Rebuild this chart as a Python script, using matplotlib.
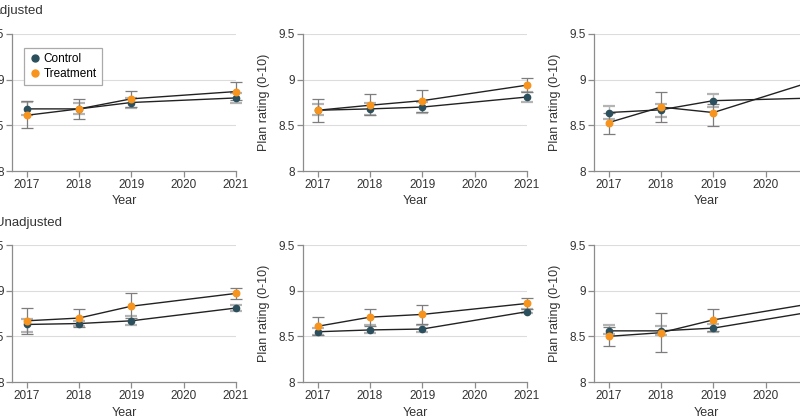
import matplotlib.pyplot as plt
from matplotlib.lines import Line2D
from matplotlib import font_manager

installed = {f.name for f in font_manager.fontManager.ttflist}
if 'Liberation Sans Narrow' in installed:
    plt.rcParams['font.family'] = ['Liberation Sans Narrow', 'DejaVu Sans']
    fs = 9.5
else:
    plt.rcParams['font.family'] = ['Liberation Sans', 'DejaVu Sans']
    fs = 8.5

years = [2017, 2018, 2019, 2021]
tick_years = [2017, 2018, 2019, 2020, 2021]
y_ticks = [8, 8.5, 9, 9.5]
y_labels = ["8", "8.5", "9", "9.5"]
row_titles = ["Adjusted", "Unadjusted"]

# adjusted row
p1_ctrl = [8.68, 8.68, 8.75, 8.80]
p1_ctrl_lo = [8.61, 8.62, 8.69, 8.75]
p1_ctrl_hi = [8.76, 8.75, 8.80, 8.85]
p1_trt = [8.61, 8.68, 8.79, 8.87]
p1_trt_lo = [8.47, 8.57, 8.70, 8.78]
p1_trt_hi = [8.77, 8.79, 8.88, 8.97]

p2_ctrl = [8.665, 8.68, 8.70, 8.81]
p2_ctrl_lo = [8.61, 8.61, 8.64, 8.76]
p2_ctrl_hi = [8.73, 8.74, 8.76, 8.86]
p2_trt = [8.665, 8.72, 8.77, 8.94]
p2_trt_lo = [8.54, 8.61, 8.65, 8.86]
p2_trt_hi = [8.79, 8.84, 8.89, 9.02]

p3_ctrl = [8.64, 8.67, 8.77, 8.80]
p3_ctrl_lo = [8.57, 8.59, 8.70, 8.75]
p3_ctrl_hi = [8.71, 8.73, 8.84, 8.85]
p3_trt = [8.53, 8.70, 8.64, 9.00]
p3_trt_lo = [8.41, 8.54, 8.49, 8.90]
p3_trt_hi = [8.64, 8.87, 8.73, 9.10]

# unadjusted row
p4_ctrl = [8.63, 8.64, 8.67, 8.81]
p4_ctrl_lo = [8.55, 8.61, 8.62, 8.78]
p4_ctrl_hi = [8.69, 8.67, 8.72, 8.84]
p4_trt = [8.67, 8.70, 8.83, 8.97]
p4_trt_lo = [8.53, 8.60, 8.70, 8.91]
p4_trt_hi = [8.81, 8.80, 8.97, 9.03]

p5_ctrl = [8.55, 8.57, 8.58, 8.77]
p5_ctrl_lo = [8.52, 8.54, 8.55, 8.75]
p5_ctrl_hi = [8.59, 8.62, 8.62, 8.80]
p5_trt = [8.61, 8.71, 8.74, 8.86]
p5_trt_lo = [8.52, 8.61, 8.64, 8.80]
p5_trt_hi = [8.71, 8.80, 8.84, 8.92]

p6_ctrl = [8.56, 8.56, 8.59, 8.78]
p6_ctrl_lo = [8.53, 8.51, 8.55, 8.75]
p6_ctrl_hi = [8.62, 8.61, 8.64, 8.81]
p6_trt = [8.50, 8.54, 8.68, 8.87]
p6_trt_lo = [8.39, 8.33, 8.56, 8.80]
p6_trt_hi = [8.60, 8.75, 8.80, 8.94]

panels = [
    (p1_ctrl, p1_ctrl_lo, p1_ctrl_hi, p1_trt, p1_trt_lo, p1_trt_hi),
    (p2_ctrl, p2_ctrl_lo, p2_ctrl_hi, p2_trt, p2_trt_lo, p2_trt_hi),
    (p3_ctrl, p3_ctrl_lo, p3_ctrl_hi, p3_trt, p3_trt_lo, p3_trt_hi),
    (p4_ctrl, p4_ctrl_lo, p4_ctrl_hi, p4_trt, p4_trt_lo, p4_trt_hi),
    (p5_ctrl, p5_ctrl_lo, p5_ctrl_hi, p5_trt, p5_trt_lo, p5_trt_hi),
    (p6_ctrl, p6_ctrl_lo, p6_ctrl_hi, p6_trt, p6_trt_lo, p6_trt_hi),
]

CTRL = "#2b4f5c"
TRT = "#f7941d"
GRID = "#dcdcdc"
SPINE = "#8c8c8c"
TXT = "#333333"

W, H = 800, 419
fig = plt.figure(figsize=(W / 100, H / 100), dpi=100)

lefts = [12, 303, 594]
tops = [34, 245]
aw, ah = 224, 137


def err(mean, lo, hi):
    return [[m - l for m, l in zip(mean, lo)], [h - m for m, h in zip(mean, hi)]]


for i, (c, clo, chi, t, tlo, thi) in enumerate(panels):
    r, col = divmod(i, 3)
    ax = fig.add_axes([lefts[col] / W, 1 - (tops[r] + ah) / H, aw / W, ah / H])
    ax.set_xlim(2016.72, 2021)
    ax.set_ylim(8, 9.5)
    for yv in y_ticks[1:]:
        ax.axhline(yv, color=GRID, lw=0.8, zorder=0)

    ax.errorbar(years, c, yerr=err(c, clo, chi), fmt='none', ecolor="#b4b4b4",
                elinewidth=1.0, capsize=4, capthick=1.6, zorder=2, clip_on=False)
    ax.errorbar(years, t, yerr=err(t, tlo, thi), fmt='none', ecolor="#7d7d7d",
                elinewidth=0.9, capsize=4, capthick=0.9, zorder=2, clip_on=False)
    ax.plot(years, c, color="#222222", lw=1.0, zorder=3, clip_on=False)
    ax.plot(years, t, color="#222222", lw=1.0, zorder=3, clip_on=False)
    ax.plot(years, c, 'o', color=CTRL, ms=4.5, zorder=4, clip_on=False)
    ax.plot(years, t, 'o', color=TRT, ms=4.7, zorder=5, clip_on=False)

    for s in ['top', 'right']:
        ax.spines[s].set_visible(False)
    for s in ['left', 'bottom']:
        ax.spines[s].set_color(SPINE)
        ax.spines[s].set_linewidth(0.9)
    ax.set_xticks(tick_years)
    ax.set_xticklabels([str(y) for y in tick_years])
    ax.set_yticks(y_ticks)
    ax.set_yticklabels(y_labels)
    ax.tick_params(colors=SPINE, labelcolor=TXT, labelsize=fs, length=4, width=0.9, pad=2)
    ax.set_xlabel("Year", fontsize=fs + 0.5, color=TXT, labelpad=3)
    ax.set_ylabel("Plan rating (0-10)", fontsize=fs + 0.5, color=TXT, labelpad=6)

    if i == 0:
        handles = [Line2D([], [], marker='o', ls='none', color=CTRL, ms=5),
                   Line2D([], [], marker='o', ls='none', color=TRT, ms=5)]
        leg = ax.legend(handles, ["Control", "Treatment"], loc='upper left',
                        bbox_to_anchor=(0.054, 0.9), fontsize=fs, frameon=True,
                        fancybox=False, edgecolor="#aaaaaa", framealpha=1,
                        handletextpad=0.2, borderpad=0.45, labelspacing=0.25,
                        handlelength=1.0, borderaxespad=0)
        leg.get_frame().set_linewidth(0.9)

fig.text(-8 / W, 1 - 11 / H, row_titles[0], fontsize=fs + 1, color=TXT, va='center', ha='left')
fig.text(-5 / W, 1 - 223 / H, row_titles[1], fontsize=fs + 1, color=TXT, va='center', ha='left')

fig.savefig("out.png", dpi=100)
